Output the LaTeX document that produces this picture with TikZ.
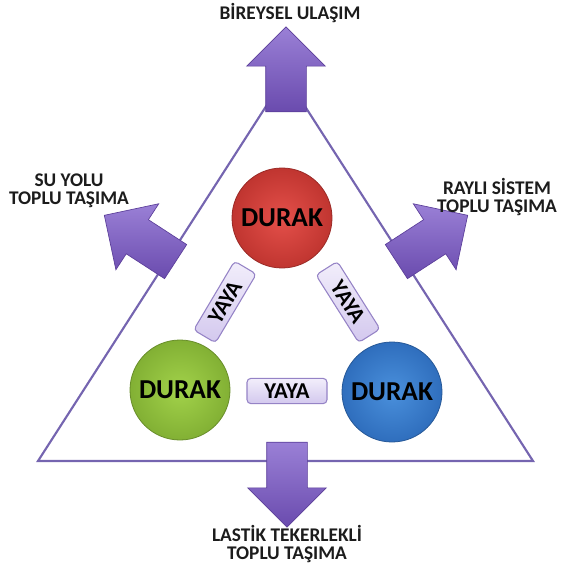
\documentclass[tikz,border=0pt]{standalone}
\usepackage{fontspec}
\setmainfont{Carlito}
\usetikzlibrary{shapes.arrows}
\definecolor{arrowlight}{HTML}{9A80D6}
\definecolor{arrowdark}{HTML}{6A4BAE}
\definecolor{arrowedge}{HTML}{5B3E99}
\definecolor{triline}{HTML}{7565B0}
\definecolor{redin}{HTML}{E4504A}
\definecolor{redout}{HTML}{C03530}
\definecolor{greenin}{HTML}{A2D24A}
\definecolor{greenout}{HTML}{82B034}
\definecolor{bluein}{HTML}{4A90DC}
\definecolor{blueout}{HTML}{2F6EBD}
\definecolor{yayatop}{HTML}{F2EEFB}
\definecolor{yayabot}{HTML}{D3C8EE}
\definecolor{yayaedge}{HTML}{9583C6}
\definecolor{labeltext}{HTML}{1C1C1C}
\begin{document}
\begin{tikzpicture}[x=0.75pt,y=-0.75pt,
  bigarrow/.style={single arrow, draw=arrowedge, line width=0.5pt,
    top color=arrowlight, bottom color=arrowdark,
    minimum height=63.75pt, minimum width=58.5pt,
    inner xsep=0pt, inner ysep=15pt,
    single arrow head extend=14.25pt, single arrow tip angle=90},
  durak/.style={circle, minimum size=75pt, inner sep=0pt, line width=0.6pt,
    font=\fontsize{20.5}{21}\selectfont\bfseries, text=black},
  yaya/.style={rectangle, rounded corners=3pt, draw=yayaedge, line width=0.8pt,
    top color=yayatop, bottom color=yayabot,
    minimum width=60pt, minimum height=19pt, inner sep=0pt,
    font=\fontsize{17}{17}\selectfont\bfseries, text=black},
  lbl/.style={align=center, text=labeltext,
    font=\fontsize{14.5}{13.5}\selectfont\bfseries}
]
\useasboundingbox (0,0) rectangle (563,570);

% triangle
\coordinate (apex) at (285.5,76);
\coordinate (bl) at (38,461);
\coordinate (br) at (533,461);
\draw[triline, line width=1.6pt, line join=miter] (apex) -- (bl) -- (br) -- cycle;

% arrows
\node[bigarrow, rotate=90]  (aup)    at (286,79.5) {};
\node[bigarrow, rotate=147] (aleft)  at (148.5,244) {};
\node[bigarrow, rotate=33]  (aright) at (423.5,244) {};
\node[bigarrow, rotate=-90] (adown)  at (287,474.5) {};

% stops
\node[durak, shading=radial, inner color=redin, outer color=redout, draw=redout!80!black] (red) at (282,218) {DURAK};
\node[durak, shading=radial, inner color=greenin, outer color=greenout, draw=greenout!80!black] (green) at (180,390) {DURAK};
\node[durak, shading=radial, inner color=bluein, outer color=blueout, draw=blueout!80!black] (blue) at (392,392) {DURAK};

% pedestrian links
\node[yaya, rotate=59.3]  (yl) at (225,302) {YAYA};
\node[yaya, rotate=-57.7] (yr) at (348,302) {YAYA};
\node[yaya]               (yb) at (287,391) {YAYA};

% labels
\node[lbl] (ltop) at (290,13) {BİREYSEL ULAŞIM};
\node[lbl] (lleft) at (69,191) {SU YOLU\\TOPLU TAŞIMA};
\node[lbl] (lright) at (497,197) {RAYLI SİSTEM\\TOPLU TAŞIMA};
\node[lbl] (lbottom) at (287,544) {LASTİK TEKERLEKLİ\\TOPLU TAŞIMA};
\end{tikzpicture}
\end{document}
